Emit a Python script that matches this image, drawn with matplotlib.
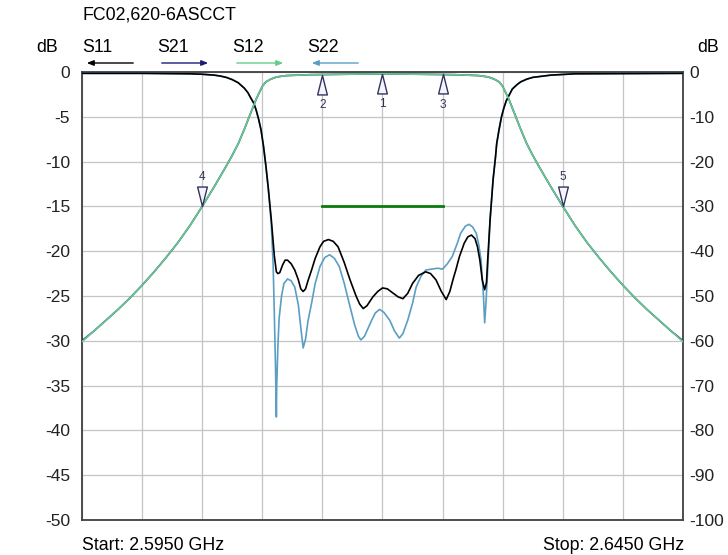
import matplotlib
matplotlib.use("Agg")
import matplotlib.pyplot as plt
import numpy as np

plt.rcParams['font.family'] = ['Liberation Sans', 'DejaVu Sans']
plt.rcParams['axes.unicode_minus'] = False

# transmission (S21 / S12), GHz and dB
f_thru = [2.5950, 2.5960, 2.5970, 2.5980, 2.5990, 2.6000, 2.6010, 2.6020, 2.6030,
          2.6040, 2.6050, 2.6060, 2.6070, 2.6075, 2.6080, 2.6085, 2.6090, 2.6095,
          2.6100, 2.6103, 2.6107, 2.6112, 2.6120, 2.6140, 2.6170, 2.6200, 2.6230,
          2.6260, 2.6280, 2.6288, 2.6293, 2.6297, 2.6300, 2.6305, 2.6310, 2.6315,
          2.6320, 2.6325, 2.6330, 2.6340, 2.6350, 2.6360, 2.6370, 2.6380, 2.6390,
          2.6400, 2.6410, 2.6420, 2.6430, 2.6440, 2.6450]
s21 = [-30.0, -28.9, -27.7, -26.5, -25.2, -23.8, -22.3, -20.7, -19.0,
       -17.1, -15.0, -12.8, -10.5, -9.3, -8.0, -6.4, -4.7, -3.0,
       -1.6, -1.1, -0.8, -0.55, -0.4, -0.3, -0.25, -0.2, -0.25,
       -0.3, -0.4, -0.55, -0.8, -1.1, -1.6, -3.0, -4.7, -6.4,
       -8.0, -9.3, -10.5, -12.8, -15.0, -17.1, -19.0, -20.7, -22.3,
       -23.8, -25.2, -26.5, -27.7, -28.9, -30.0]
s12 = [-30.1, -28.9, -27.7, -26.5, -25.2, -23.8, -22.3, -20.7, -19.0,
       -17.1, -15.0, -12.8, -10.5, -9.3, -8.0, -6.4, -4.7, -3.0,
       -1.6, -1.1, -0.8, -0.55, -0.4, -0.3, -0.25, -0.2, -0.25,
       -0.3, -0.4, -0.55, -0.8, -1.1, -1.6, -3.0, -4.7, -6.4,
       -8.0, -9.3, -10.5, -12.8, -15.0, -17.1, -19.0, -20.7, -22.3,
       -23.8, -25.2, -26.5, -27.7, -28.9, -30.1]

# reflection S11
f_s11 = [2.5950, 2.6000, 2.6040, 2.6050, 2.6060, 2.6065, 2.6070, 2.6075, 2.6080,
         2.6085, 2.6088, 2.6090, 2.6093, 2.6095, 2.6097, 2.6099, 2.6101, 2.6103,
         2.6105, 2.61075, 2.6110, 2.61117, 2.6113, 2.61145, 2.6117, 2.6119, 2.6121,
         2.6124, 2.6127, 2.6130, 2.6132, 2.6134, 2.6136, 2.6138, 2.6141, 2.6144,
         2.6148, 2.6151, 2.6155, 2.6159, 2.6163, 2.6168, 2.6173, 2.6178, 2.6181,
         2.6184, 2.6187, 2.6192, 2.6196, 2.6200, 2.6204, 2.6209, 2.6213, 2.6217,
         2.6221, 2.6225, 2.6230, 2.6236, 2.6240, 2.62445, 2.6249, 2.6253, 2.6256,
         2.6259, 2.6261, 2.6264, 2.6268, 2.6271, 2.6274, 2.6277, 2.6279, 2.6281,
         2.6283, 2.6285, 2.62865, 2.62875, 2.62895, 2.6291, 2.6292, 2.6294, 2.6295,
         2.6297, 2.6299, 2.6301, 2.6303, 2.6308, 2.6312, 2.6315, 2.6320, 2.6325,
         2.6340, 2.6360, 2.6450]
s11 = [-0.15, -0.15, -0.2, -0.25, -0.35, -0.45, -0.6, -0.85, -1.2,
       -1.8, -2.3, -2.8, -3.5, -4.3, -5.3, -6.5, -8.3, -10.5,
       -13.0, -16.5, -20.5, -22.3, -22.5, -22.4, -21.5, -21.0, -21.0,
       -21.4, -22.1, -23.2, -24.2, -24.5, -24.2, -23.3, -22.1, -20.8,
       -19.5, -18.9, -18.7, -18.9, -19.5, -21.2, -23.2, -25.0, -25.9,
       -26.4, -26.1, -25.1, -24.5, -24.1, -24.2, -24.7, -25.1, -25.3,
       -24.7, -23.6, -22.7, -22.3, -22.5, -23.2, -24.5, -25.4, -24.5,
       -23.0, -22.1, -20.6, -19.1, -18.4, -18.2, -18.6, -19.5, -21.0,
       -23.2, -24.3, -23.5, -21.0, -16.5, -13.8, -12.0, -9.5, -8.0,
       -6.4, -5.0, -4.0, -3.2, -1.9, -1.4, -1.1, -0.8, -0.6,
       -0.35, -0.2, -0.15]

# reflection S22
f_s22 = [2.5950, 2.6000, 2.6040, 2.6050, 2.6060, 2.6065, 2.6070, 2.6075, 2.6080,
         2.6085, 2.6088, 2.6090, 2.6093, 2.6095, 2.6097, 2.6099, 2.6101, 2.6103,
         2.6105, 2.61075, 2.6109, 2.6110, 2.6111, 2.61117, 2.6112, 2.6113, 2.6114,
         2.6116, 2.6118, 2.6121, 2.6124, 2.6127, 2.6130, 2.6132, 2.6134, 2.6136,
         2.6138, 2.6141, 2.6144, 2.6148, 2.6152, 2.6156, 2.6160, 2.6164, 2.6168,
         2.6173, 2.6177, 2.6180, 2.6182, 2.6185, 2.6188, 2.6191, 2.6194, 2.61975,
         2.6201, 2.6206, 2.6210, 2.6214, 2.6217, 2.6221, 2.6225, 2.6228, 2.6232,
         2.6236, 2.6241, 2.6246, 2.6250, 2.6254, 2.6258, 2.6262, 2.6265, 2.6269,
         2.6272, 2.6275, 2.6278, 2.6280, 2.6282, 2.6284, 2.6285, 2.6286, 2.62875,
         2.62895, 2.6291, 2.6292, 2.6294, 2.6295, 2.6297, 2.6299, 2.6301, 2.6303,
         2.6308, 2.6312, 2.6315, 2.6320, 2.6325, 2.6340, 2.6360, 2.6450]
s22 = [-0.15, -0.15, -0.2, -0.25, -0.35, -0.45, -0.6, -0.85, -1.2,
       -1.8, -2.3, -2.8, -3.5, -4.3, -5.3, -6.5, -8.3, -10.5,
       -13.0, -17.0, -21.4, -27.0, -33.0, -38.5, -35.0, -30.5, -27.5,
       -25.0, -23.6, -23.1, -23.3, -24.0, -26.0, -28.5, -30.8, -29.8,
       -27.8, -25.8, -23.6, -21.7, -20.7, -20.4, -20.8, -21.7, -23.5,
       -26.2, -28.3, -29.5, -29.9, -29.5, -28.6, -27.7, -26.9, -26.5,
       -26.8, -27.7, -28.9, -29.7, -29.2, -27.7, -25.8, -24.0, -22.8,
       -22.1, -22.0, -21.9, -22.0, -21.4, -20.6, -19.2, -18.0, -17.2,
       -17.0, -17.3, -18.0, -19.2, -21.0, -25.0, -28.0, -26.0, -22.1,
       -16.5, -13.8, -12.0, -9.5, -8.0, -6.4, -5.0, -4.0, -3.2,
       -1.9, -1.4, -1.1, -0.8, -0.6, -0.35, -0.2, -0.15]

# markers and limit line
mark_up_f = [2.615, 2.620, 2.625]
mark_up_db = [-0.3, -0.2, -0.25]
mark_up_lbl = ['2', '1', '3']
mark_dn_f = [2.605, 2.635]
mark_dn_db = [-15.0, -15.0]
mark_dn_lbl = ['4', '5']
limit_f = [2.615, 2.625]
limit_db = [-15.0, -15.0]

traces = ['S11', 'S21', 'S12', 'S22']
trace_colors = ['#000000', '#1c1c78', '#66cc8a', '#5b9ec4']

fig = plt.figure(figsize=(7.28, 5.55), dpi=100)
ax = fig.add_axes([82/728, 35/555, 601/728, 448/555])

ax.plot(f_s11, s11, color=trace_colors[0], lw=1.2, zorder=4)
ax.plot(f_s22, s22, color=trace_colors[3], lw=1.2, zorder=3)
ax.plot(f_thru, s21, color=trace_colors[1], lw=1.2, zorder=3)
ax.plot(f_thru, s12, color=trace_colors[2], lw=1.2, zorder=4)
ax.plot(limit_f, limit_db, color='#0a7a0a', lw=2, zorder=5)

up_tri = [(0, 0), (-0.25, -1), (0.25, -1), (0, 0)]
dn_tri = [(0, 0), (-0.25, 1), (0.25, 1), (0, 0)]
ax.plot(mark_up_f, mark_up_db, ls='none', marker=up_tri, ms=28, mfc='#f4f4ff',
        mec='#33335a', mew=1, zorder=6)
ax.plot(mark_dn_f, mark_dn_db, ls='none', marker=dn_tri, ms=28, mfc='#f4f4ff',
        mec='#33335a', mew=1, zorder=6)
for f, v, t in zip(mark_up_f, mark_up_db, mark_up_lbl):
    ax.annotate(t, (f, v), xytext=(0, -22), textcoords='offset points',
                ha='center', va='center', fontsize=8.5, color='#33335a')
for f, v, t in zip(mark_dn_f, mark_dn_db, mark_dn_lbl):
    ax.annotate(t, (f, v), xytext=(0, 21), textcoords='offset points',
                ha='center', va='center', fontsize=8.5, color='#33335a')

ax.set_xlim(2.595, 2.645)
ax.set_ylim(-50, 0)
ax.set_xticks(np.linspace(2.595, 2.645, 11))
ax.set_xticklabels([])
ax.set_yticks(np.arange(-50, 1, 5))
ax.grid(True, color='#c4c4c4', lw=0.9)
ax.set_axisbelow(True)
ax.tick_params(length=0, labelsize=12.5, pad=8.5, colors='#222222')
for s in ax.spines.values():
    s.set_color('#404040')
    s.set_linewidth(1.3)

ax2 = ax.twinx()
ax2.set_ylim(-100, 0)
ax2.set_yticks(np.arange(-100, 1, 10))
ax2.tick_params(length=0, labelsize=12.5, pad=4.5, colors='#222222')
for s in ax2.spines.values():
    s.set_visible(False)

fs = 12.8
fig.text(82/728, 1 - 15/555, 'FC02,620-6ASCCT', fontsize=fs, va='center', ha='left')
fig.text(36/728, 1 - 47/555, 'dB', fontsize=fs, va='center', ha='left')
fig.text(697/728, 1 - 47/555, 'dB', fontsize=fs, va='center', ha='left')
fig.text(82/728, 1 - 545/555, 'Start: 2.5950 GHz', fontsize=fs, va='center', ha='left')
fig.text(684/728, 1 - 545/555, 'Stop: 2.6450 GHz', fontsize=fs, va='center', ha='right')

for i, (name, col) in enumerate(zip(traces, trace_colors)):
    x0 = (82 + 75 * i) / 728
    fig.text(x0, 1 - 48/555, name, fontsize=fs, va='center', ha='left')
    left = name in ('S11', 'S22')
    xa, xb = (x0 + 54/728, x0 + 2/728) if left else (x0 + 2/728, x0 + 54/728)
    fig.add_artist(matplotlib.patches.FancyArrowPatch(
        (xa, 1 - 63/555), (xb, 1 - 63/555), transform=fig.transFigure,
        arrowstyle='-|>,head_length=4,head_width=1.6', color=col, lw=1))

fig.savefig('out.png', dpi=100)
